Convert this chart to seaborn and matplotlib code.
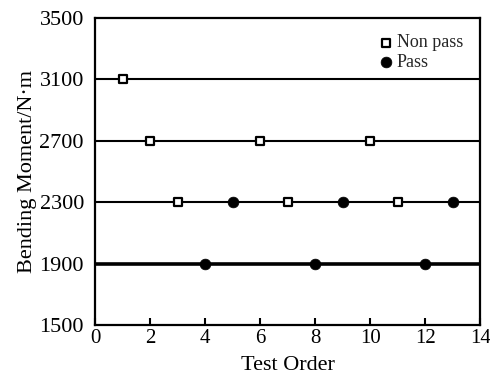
import matplotlib
matplotlib.use("Agg")
import matplotlib.pyplot as plt
import seaborn as sns
import pandas as pd

nonpass_x = [1, 2, 3, 6, 7, 10, 11]
nonpass_y = [3100, 2700, 2300, 2700, 2300, 2700, 2300]
pass_x = [4, 5, 8, 9, 12, 13]
pass_y = [1900, 2300, 1900, 2300, 1900, 2300]
levels = [3100, 2700, 2300, 1900]
level_widths = [1.5, 1.5, 1.5, 2.6]
x_ticks = [0, 2, 4, 6, 8, 10, 12, 14]
y_ticks = [1500, 1900, 2300, 2700, 3100, 3500]

sns.set_theme(style="ticks")
plt.rcParams['font.family'] = ['Liberation Serif', 'DejaVu Serif']

fig = plt.figure(figsize=(4.9, 3.76), dpi=100)
ax = fig.add_axes([0.194, 0.136, 0.786, 0.816])

for lv, lw in zip(levels, level_widths):
    ax.axhline(lv, color='black', lw=lw, zorder=1)

df_np = pd.DataFrame({'x': nonpass_x, 'y': nonpass_y})
df_p = pd.DataFrame({'x': pass_x, 'y': pass_y})
sns.scatterplot(data=df_np, x='x', y='y', ax=ax, marker='s', s=30,
                facecolor='white', edgecolor='black', linewidth=1.6,
                label='Non pass', zorder=3)
sns.scatterplot(data=df_p, x='x', y='y', ax=ax, marker='o', s=60,
                color='black', edgecolor='black', linewidth=0.5,
                label='Pass', zorder=3)

ax.set_xlim(0, 14)
ax.set_ylim(1500, 3500)
ax.set_xticks(x_ticks)
ax.set_yticks(y_ticks)
ax.tick_params(axis='x', direction='in', length=5, width=1.5, labelsize=15, pad=3, colors='black')
ax.tick_params(axis='y', direction='in', length=0, width=1.5, labelsize=16, pad=8, colors='black')
for s in ax.spines.values():
    s.set_linewidth(1.6)
    s.set_color('black')
ax.set_xlabel('Test Order', fontsize=16, labelpad=6, color='black')
ax.set_ylabel('Bending Moment/N·m', fontsize=16, labelpad=2, color='black')

leg = ax.legend(loc='upper right', bbox_to_anchor=(0.997, 1.0), frameon=False, fontsize=13,
                handletextpad=0.1, labelspacing=0.15, borderaxespad=0.5,
                handlelength=1.0)

fig.savefig('out.png', dpi=100)
